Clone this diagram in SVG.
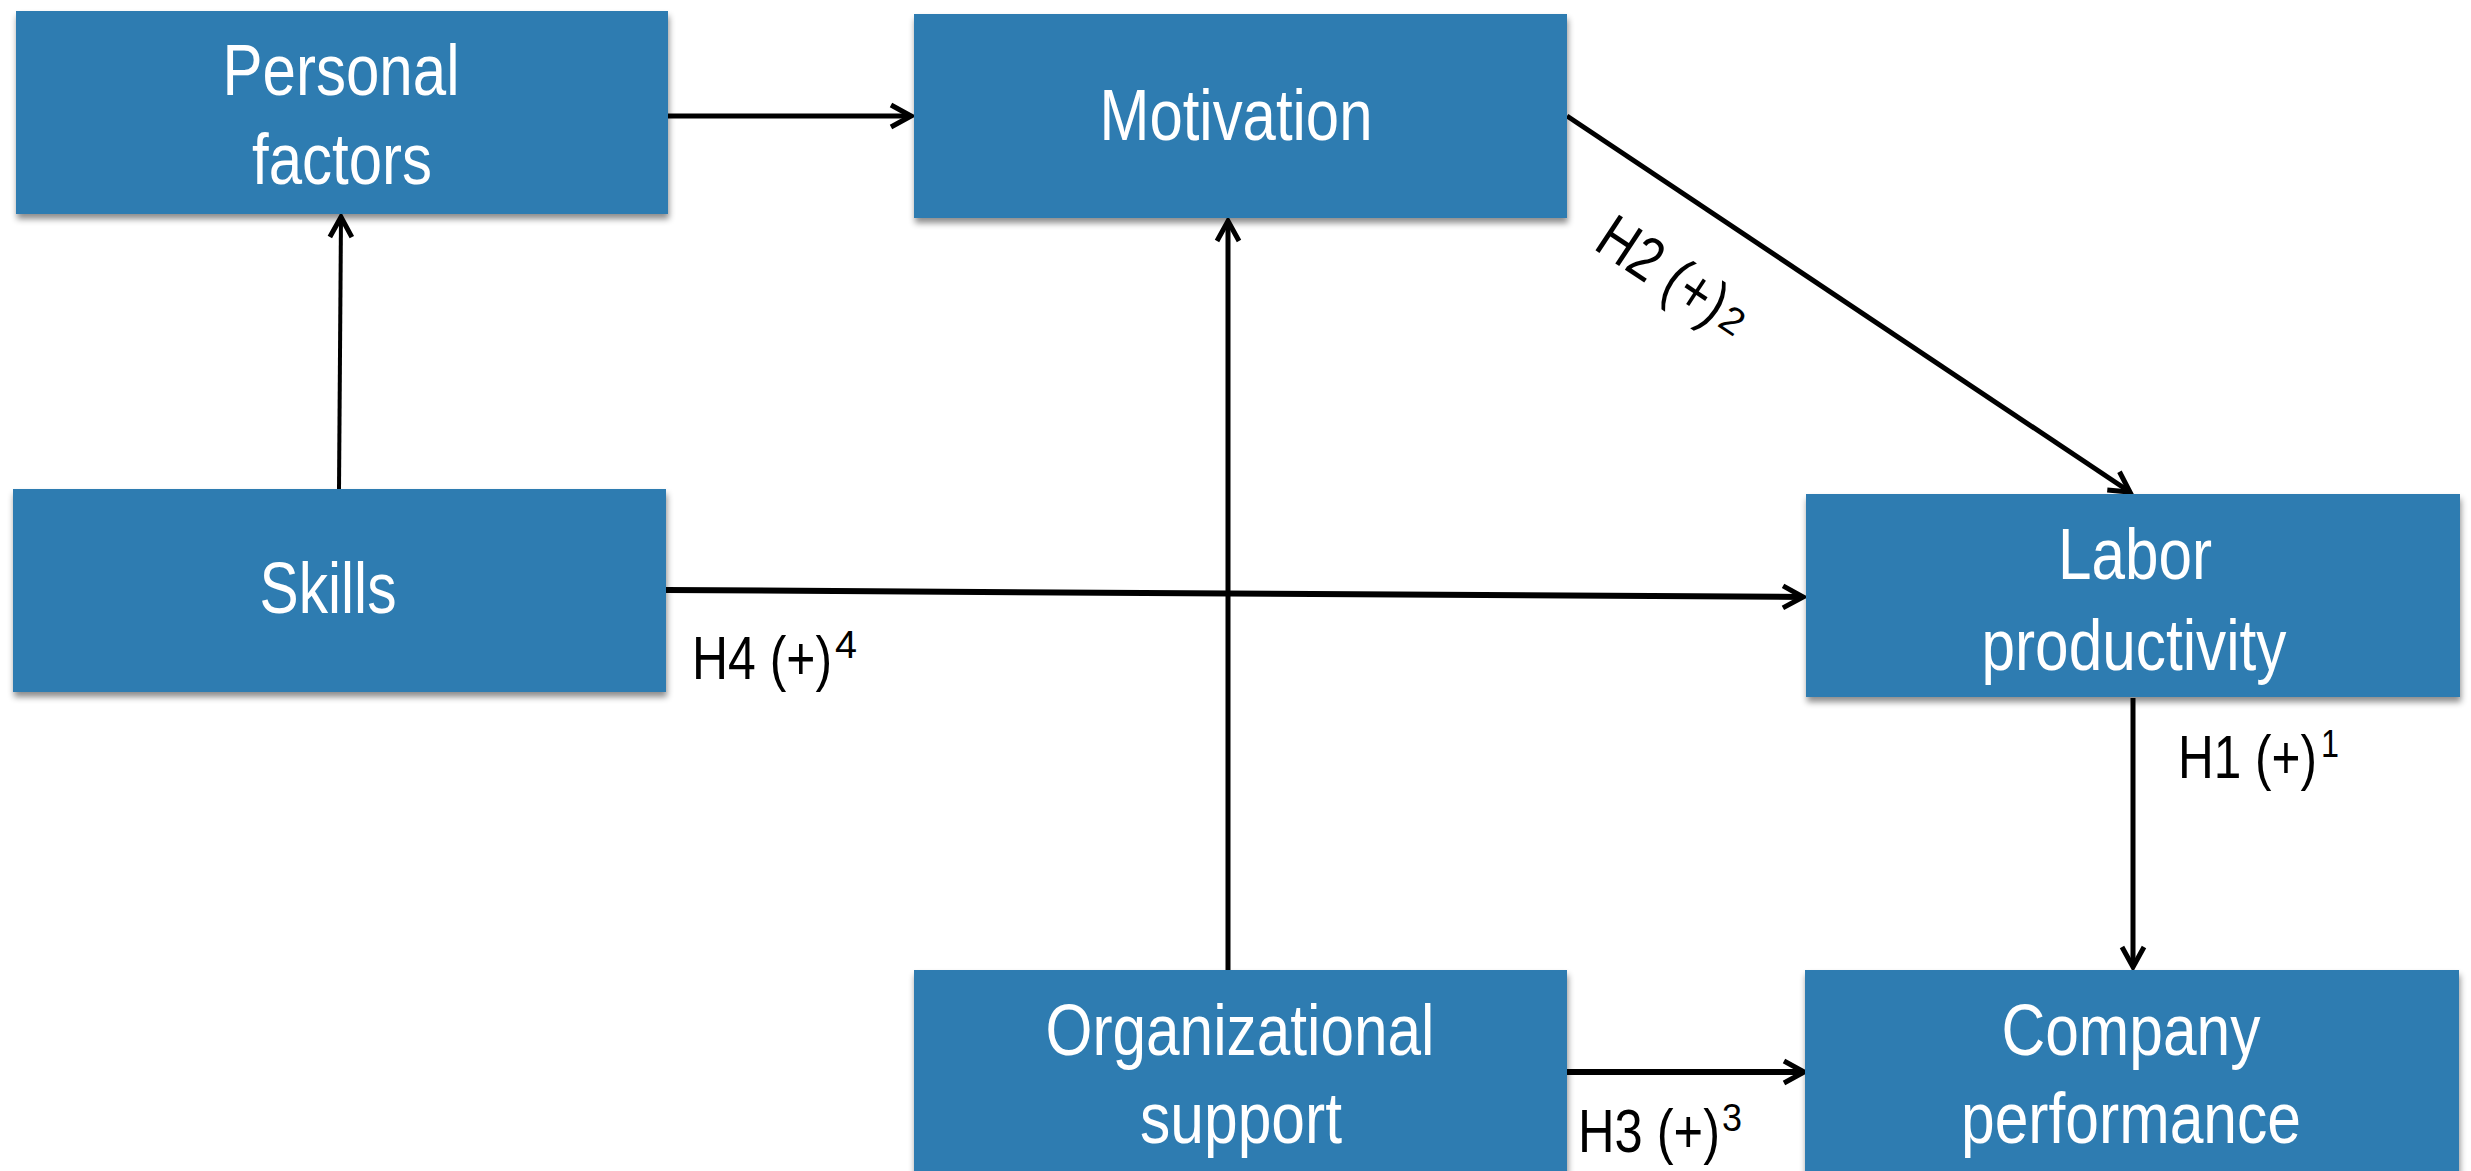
<svg xmlns="http://www.w3.org/2000/svg" width="2471" height="1171" viewBox="0 0 2471 1171">
<style>
.box{fill:#2e7cb1;filter:url(#sh);}
.nt{font-family:"Liberation Sans",Arial,sans-serif;font-size:73px;fill:#ffffff;text-anchor:middle;}
.lb{font-family:"Liberation Sans",Arial,sans-serif;font-size:62px;fill:#000000;}
.sup{font-family:"Liberation Sans",Arial,sans-serif;font-size:38px;fill:#000000;}
.cn{stroke:#000;fill:none;stroke-linecap:butt;marker-end:url(#ah);}
</style>
<defs>
<filter id="sh" x="-5%" y="-5%" width="110%" height="120%">
<feDropShadow dx="1" dy="5" stdDeviation="3" flood-color="#000" flood-opacity="0.45"/>
</filter>
<marker id="ah" markerUnits="userSpaceOnUse" viewBox="-24 -14 28 28" refX="0" refY="0" markerWidth="28" markerHeight="28" orient="auto">
<path d="M-20,-11 L0,0 L-20,11" fill="none" stroke="#000" stroke-width="5" stroke-linejoin="miter"/>
</marker>
</defs>
<rect width="2471" height="1171" fill="#ffffff"/>

<g id="connectors">
<line class="cn" x1="666" y1="116" x2="911" y2="116" stroke-width="5"/>
<line class="cn" x1="339" y1="490" x2="341" y2="217" stroke-width="4"/>
<line class="cn" x1="666" y1="590" x2="1803" y2="597" stroke-width="6"/>
<line class="cn" x1="1228" y1="970" x2="1228" y2="221" stroke-width="5"/>
<line class="cn" x1="1567" y1="116" x2="2130" y2="492" stroke-width="5"/>
<line class="cn" x1="2133" y1="698" x2="2133" y2="967" stroke-width="5"/>
<line class="cn" x1="1556" y1="1072" x2="1804" y2="1072" stroke-width="6"/>
</g>

<g id="labels">
<text class="lb" x="692" y="679" textLength="140" lengthAdjust="spacingAndGlyphs">H4 (+)</text>
<text class="sup" x="835" y="658" textLength="22" lengthAdjust="spacingAndGlyphs">4</text>
<text class="lb" x="2178" y="778" textLength="139" lengthAdjust="spacingAndGlyphs">H1 (+)</text>
<text class="sup" x="2321" y="757" textLength="18" lengthAdjust="spacingAndGlyphs">1</text>
<text class="lb" x="1578" y="1152" textLength="142" lengthAdjust="spacingAndGlyphs">H3 (+)</text>
<text class="sup" x="1722" y="1131" textLength="20" lengthAdjust="spacingAndGlyphs">3</text>
<g transform="translate(1592,248) rotate(33.5)">
<text class="lb" x="0" y="0" textLength="143" lengthAdjust="spacingAndGlyphs">H2 (+)</text>
<text class="sup" x="146" y="-4" textLength="22" lengthAdjust="spacingAndGlyphs">2</text>
</g>
</g>

<g id="node-personal-factors">
<rect class="box" x="16" y="11" width="652" height="203"/>
<text class="nt" x="341" y="95" textLength="237" lengthAdjust="spacingAndGlyphs">Personal</text>
<text class="nt" x="342" y="184" textLength="180" lengthAdjust="spacingAndGlyphs">factors</text>
</g>
<g id="node-motivation">
<rect class="box" x="914" y="14" width="653" height="204"/>
<text class="nt" x="1236" y="140" textLength="273" lengthAdjust="spacingAndGlyphs">Motivation</text>
</g>
<g id="node-skills">
<rect class="box" x="13" y="489" width="653" height="203"/>
<text class="nt" x="328" y="613" textLength="137" lengthAdjust="spacingAndGlyphs">Skills</text>
</g>
<g id="node-labor-productivity">
<rect class="box" x="1806" y="494" width="654" height="203"/>
<text class="nt" x="2135" y="579" textLength="154" lengthAdjust="spacingAndGlyphs">Labor</text>
<text class="nt" x="2134" y="670" textLength="305" lengthAdjust="spacingAndGlyphs">productivity</text>
</g>
<g id="node-organizational-support">
<rect class="box" x="914" y="970" width="653" height="215"/>
<text class="nt" x="1240" y="1055" textLength="389" lengthAdjust="spacingAndGlyphs">Organizational</text>
<text class="nt" x="1241" y="1143" textLength="202" lengthAdjust="spacingAndGlyphs">support</text>
</g>
<g id="node-company-performance">
<rect class="box" x="1805" y="970" width="654" height="215"/>
<text class="nt" x="2131" y="1055" textLength="259" lengthAdjust="spacingAndGlyphs">Company</text>
<text class="nt" x="2131" y="1143" textLength="340" lengthAdjust="spacingAndGlyphs">performance</text>
</g>
</svg>
